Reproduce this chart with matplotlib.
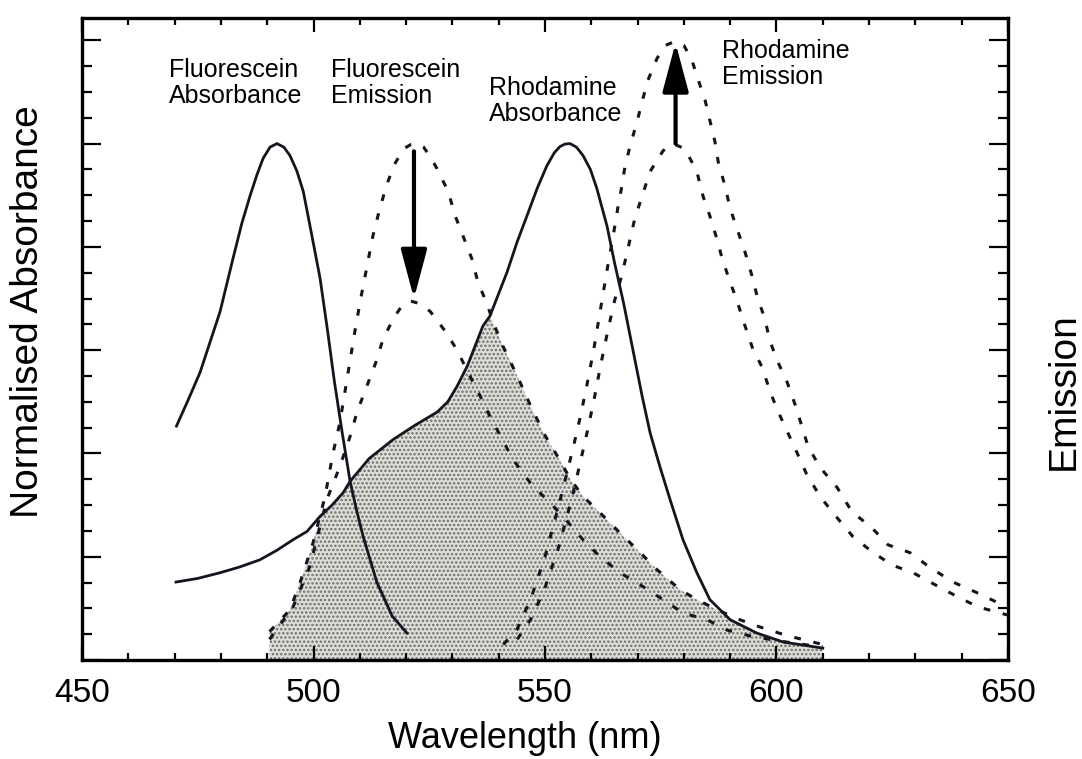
import numpy as np
import matplotlib.pyplot as plt
from matplotlib.ticker import MultipleLocator

plt.rcParams['font.family'] = ['Liberation Sans', 'DejaVu Sans']

# fluorescein absorbance (solid)
fa_x = [470.4, 473.0, 475.5, 479.8, 482.6, 484.5, 486.3, 487.8, 489.1, 490.6, 492.1, 493.6,
        494.9, 496.4, 497.8, 499.9, 501.4, 503.0, 504.5, 506.2, 507.9, 509.3, 510.7, 513.7,
        517.0, 520.2]
fa_y = [0.453, 0.505, 0.557, 0.674, 0.777, 0.845, 0.899, 0.94, 0.971, 0.993, 1.0, 0.993,
        0.977, 0.947, 0.907, 0.81, 0.74, 0.64, 0.54, 0.44, 0.346, 0.29, 0.24, 0.15,
        0.085, 0.052]

# rhodamine absorbance (solid)
ra_x = [470.3, 475.0, 479.8, 484.0, 488.4, 492.0, 495.6, 498.6, 501.4, 504.0, 506.4, 507.9,
        512.0, 517.2, 522.0, 526.7, 529.0, 531.0, 533.2, 536.6, 538.1, 541.8, 544.0, 546.1,
        548.3, 550.4, 552.0, 553.2, 554.3, 555.4, 556.8, 558.2, 559.8, 561.2, 563.4, 565.0,
        567.0, 569.0, 571.0, 572.7, 574.8, 577.0, 579.8, 582.8, 585.6, 590.0, 595.8, 601.4,
        610.0]
ra_y = [0.151, 0.158, 0.169, 0.18, 0.194, 0.212, 0.233, 0.249, 0.278, 0.30, 0.324, 0.346,
        0.39, 0.427, 0.455, 0.48, 0.50, 0.53, 0.569, 0.647, 0.666, 0.751, 0.81, 0.86,
        0.913, 0.957, 0.982, 0.994, 0.999, 1.0, 0.993, 0.977, 0.95, 0.913, 0.84, 0.77,
        0.69, 0.60, 0.51, 0.44, 0.375, 0.311, 0.233, 0.169, 0.117, 0.078, 0.052, 0.035,
        0.023]

# fluorescein emission, without acceptor (dashed, high)
fe_hi_x = [490.5, 494.9, 497.1, 499.9, 502.5, 504.2, 505.7, 506.8, 507.9, 509.0, 510.2, 511.5,
           512.8, 514.2, 515.8, 517.5, 519.5, 521.0, 522.4, 523.7, 525.2, 526.7, 529.1, 530.6,
           532.3, 534.2, 535.5, 537.5, 538.8, 540.9, 544.0, 547.0, 550.0, 553.0, 555.5, 558.2,
           561.9, 566.2, 569.9, 574.2, 579.2, 582.8, 587.0, 592.1, 596.4, 602.0, 610.0]
fe_hi_y = [0.055, 0.097, 0.15, 0.227, 0.317, 0.40, 0.46, 0.52, 0.58, 0.64, 0.70, 0.76,
           0.82, 0.87, 0.92, 0.96, 0.99, 0.998, 1.0, 0.994, 0.975, 0.951, 0.907, 0.86,
           0.821, 0.777, 0.732, 0.689, 0.654, 0.608, 0.55, 0.49, 0.435, 0.39, 0.35, 0.317,
           0.285, 0.246, 0.214, 0.175, 0.136, 0.117, 0.098, 0.078, 0.064, 0.048, 0.03]

# fluorescein emission, quenched (dashed, low)
fe_lo_x = [490.5, 495.6, 499.2, 502.9, 505.7, 507.9, 509.4, 511.5, 513.5, 515.0, 517.2, 519.0,
           521.0, 523.0, 525.2, 528.6, 531.0, 533.5, 536.0, 538.1, 543.1, 547.4, 550.4, 553.9,
           558.2, 561.9, 566.2, 570.5, 575.5, 579.8, 585.0, 589.3, 595.0, 602.0, 610.0]
fe_lo_y = [0.04, 0.103, 0.181, 0.311, 0.375, 0.433, 0.48, 0.53, 0.577, 0.621, 0.66, 0.685,
           0.695, 0.69, 0.675, 0.635, 0.60, 0.555, 0.511, 0.472, 0.388, 0.336, 0.311, 0.278,
           0.233, 0.20, 0.169, 0.146, 0.117, 0.091, 0.078, 0.058, 0.045, 0.035, 0.025]

# rhodamine emission, sensitised (dashed, high)
re_hi_x = [541.0, 544.0, 547.0, 550.0, 553.0, 556.0, 557.6, 559.0, 560.5, 562.0, 563.5, 564.7,
           565.7, 566.5, 567.3, 568.4, 569.9, 571.0, 572.2, 574.2, 576.0, 578.1, 580.0, 581.7,
           583.0, 584.6, 585.6, 586.7, 587.4, 588.9, 590.0, 591.7, 593.2, 594.7, 595.8, 597.5,
           598.6, 600.3, 602.3, 604.0, 605.5, 606.8, 609.4, 613.1, 616.3, 620.6, 624.1, 628.8,
           633.2, 638.1, 642.9, 647.8, 650.0]
re_hi_y = [0.03, 0.06, 0.12, 0.20, 0.30, 0.408, 0.47, 0.53, 0.60, 0.68, 0.76, 0.82,
           0.874, 0.913, 0.957, 0.996, 1.043, 1.082, 1.122, 1.165, 1.19, 1.198, 1.19, 1.162,
           1.126, 1.083, 1.045, 1.004, 0.965, 0.917, 0.874, 0.829, 0.79, 0.744, 0.705, 0.66,
           0.617, 0.577, 0.538, 0.495, 0.452, 0.414, 0.373, 0.334, 0.287, 0.256, 0.223, 0.208,
           0.179, 0.151, 0.132, 0.111, 0.105]

# rhodamine emission, direct (dashed, low)
re_lo_x = [544.0, 547.0, 550.0, 553.0, 556.0, 559.1, 560.5, 562.0, 563.5, 565.0, 566.6, 568.0,
           569.4, 571.0, 572.7, 575.5, 577.6, 580.2, 582.8, 584.1, 585.6, 587.1, 588.4, 590.0,
           591.7, 593.2, 594.9, 596.9, 598.6, 600.3, 602.3, 604.4, 606.5, 609.4, 612.2, 616.5,
           620.6, 624.9, 629.5, 634.2, 639.2, 643.5, 648.3, 650.0]
re_lo_y = [0.04, 0.08, 0.14, 0.22, 0.32, 0.441, 0.50, 0.57, 0.635, 0.695, 0.745, 0.80,
           0.855, 0.899, 0.946, 0.986, 1.0, 0.99, 0.946, 0.899, 0.86, 0.816, 0.773, 0.732,
           0.689, 0.647, 0.602, 0.567, 0.52, 0.482, 0.443, 0.402, 0.36, 0.317, 0.285, 0.239,
           0.21, 0.184, 0.169, 0.146, 0.122, 0.103, 0.091, 0.087]

labels = ['Fluorescein\nAbsorbance', 'Fluorescein\nEmission',
          'Rhodamine\nAbsorbance', 'Rhodamine\nEmission']

fig = plt.figure(figsize=(10.82, 7.59), dpi=100)
ax = fig.add_axes([0.0758, 0.1304, 0.8558, 0.8458])

# overlap region: below both the donor emission and the acceptor absorbance
fe_hi_x_a, fe_hi_y_a = np.array(fe_hi_x), np.array(fe_hi_y)
ra_x_a, ra_y_a = np.array(ra_x), np.array(ra_y)
m1 = fe_hi_y_a <= np.interp(fe_hi_x_a, ra_x_a, ra_y_a)
m2 = (ra_y_a < np.interp(ra_x_a, fe_hi_x_a, fe_hi_y_a)) & (ra_x_a >= fe_hi_x_a[0])
ov_x = np.concatenate([fe_hi_x_a[m1], ra_x_a[m2]])
ov_y = np.concatenate([fe_hi_y_a[m1], ra_y_a[m2]])
order = np.argsort(ov_x)
plt.rcParams['hatch.linewidth'] = 1.2
ax.fill_between(ov_x[order], 0, ov_y[order], facecolor='#dcdfd8', edgecolor='#6e6f6c',
                hatch='....', linewidth=0, zorder=1)

solid = dict(color='#15151f', lw=2.0, zorder=3)
dash = dict(color='#15151f', lw=2.2, ls=(0, (2.2, 4.2)), zorder=3)
ax.plot(fa_x, fa_y, **solid)
ax.plot(ra_x, ra_y, **solid)
ax.plot(fe_hi_x, fe_hi_y, **dash)
ax.plot(fe_lo_x, fe_lo_y, **dash)
ax.plot(re_hi_x, re_hi_y, **dash)
ax.plot(re_lo_x, re_lo_y, **dash)

arrow = dict(arrowstyle='-|>,head_length=0.75,head_width=0.2', color='black', lw=3,
             mutation_scale=40, shrinkA=0, shrinkB=0)
ax.annotate('', xy=(521.7, 0.70), xytext=(521.7, 0.985), arrowprops=arrow, zorder=4)
ax.annotate('', xy=(578.2, 1.195), xytext=(578.2, 1.0), arrowprops=arrow, zorder=4)

tx = dict(fontsize=18, ha='left', va='top', zorder=5, linespacing=1.1)
ax.text(468.8, 1.166, labels[0], **tx)
ax.text(503.8, 1.166, labels[1], **tx)
ax.text(537.9, 1.131, labels[2], **tx)
ax.text(588.2, 1.203, labels[3], **tx)

ax.set_xlim(450, 650)
ax.set_ylim(0, 1.243)
ax.xaxis.set_major_locator(MultipleLocator(50))
ax.xaxis.set_minor_locator(MultipleLocator(10))
ax.yaxis.set_major_locator(MultipleLocator(0.2))
ax.yaxis.set_minor_locator(MultipleLocator(0.05))
ax.tick_params(which='both', direction='in', top=True, right=True, width=1.6, color='black')
ax.tick_params(axis='x', which='major', length=10, pad=13, labelsize=24)
ax.tick_params(axis='x', which='minor', length=5)
ax.tick_params(axis='y', which='major', length=14, labelleft=False)
ax.tick_params(axis='y', which='minor', length=7)
for s in ax.spines.values():
    s.set_linewidth(2.4)

fig.text(0.485, 0.027, 'Wavelength (nm)', fontsize=26, ha='center', va='center')
fig.text(0.026, 0.59, 'Normalised Absorbance', fontsize=28, rotation=90, ha='center', va='center')
fig.text(0.983, 0.485, 'Emission', fontsize=28, rotation=90, ha='center', va='center')

fig.savefig('out.png', dpi=100)
